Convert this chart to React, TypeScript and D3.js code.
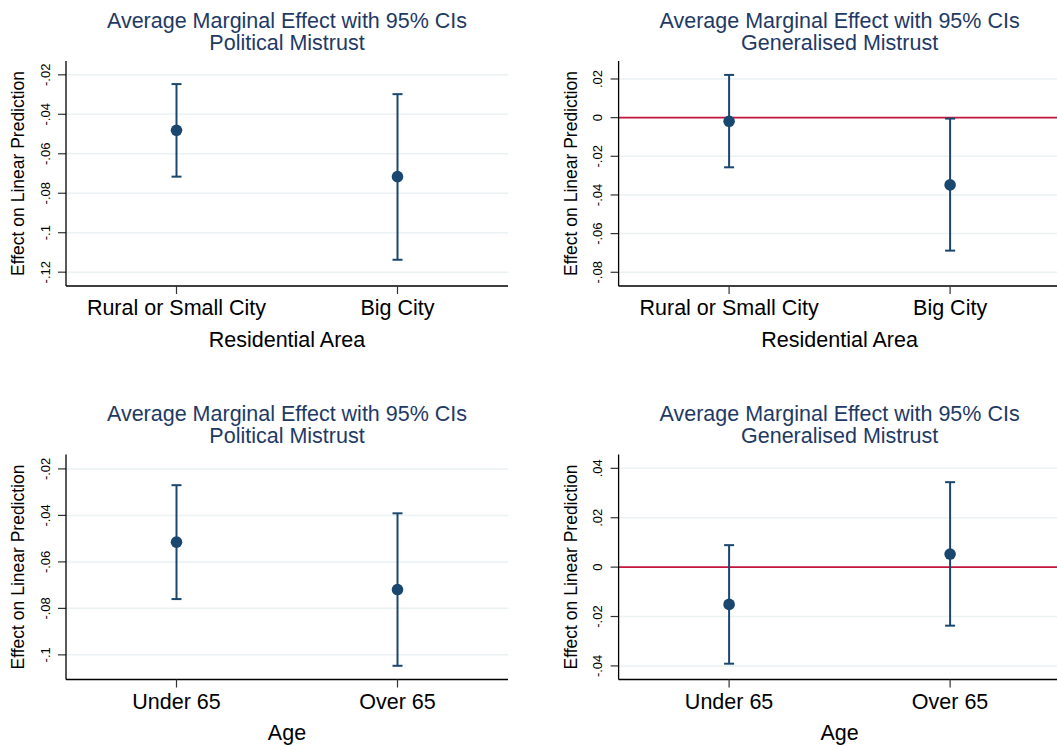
import React from 'react';
import * as d3 from 'd3';

// categories
const areaCats = ["Rural or Small City", "Big City"];
const ageCats = ["Under 65", "Over 65"];

// political mistrust by residential area
const polAreaEst = [-0.0481, -0.0716];
const polAreaLo = [-0.0716, -0.1137];
const polAreaHi = [-0.0247, -0.0298];

// generalised mistrust by residential area
const genAreaEst = [-0.0019, -0.0348];
const genAreaLo = [-0.0257, -0.0688];
const genAreaHi = [0.0221, -0.0005];

// political mistrust by age
const polAgeEst = [-0.0515, -0.0719];
const polAgeLo = [-0.076, -0.1047];
const polAgeHi = [-0.027, -0.0391];

// generalised mistrust by age
const genAgeEst = [-0.0151, 0.0053];
const genAgeLo = [-0.0391, -0.0237];
const genAgeHi = [0.0089, 0.0344];

// y tick values and axis ranges
const polAreaTicks = [-0.12, -0.1, -0.08, -0.06, -0.04, -0.02];
const genAreaTicks = [-0.08, -0.06, -0.04, -0.02, 0, 0.02];
const polAgeTicks = [-0.1, -0.08, -0.06, -0.04, -0.02];
const genAgeTicks = [-0.04, -0.02, 0, 0.02, 0.04];
const polAreaRange = [-0.127, -0.013];
const genAreaRange = [-0.0871, 0.0293];
const polAgeRange = [-0.1106, -0.0138];
const genAgeRange = [-0.0455, 0.0456];

const FONT = "Arial, 'Liberation Sans', Helvetica, sans-serif";
const NAVY = "#1a476f";
const TITLE_C = "#1e3a64";

// Stata-style tick labels: -.02, 0, .02
const fmt = (v: number) => {
    const s = String(+v.toFixed(4));
    return s.replace(/^(-?)0\./, "$1.");
};

interface PanelProps {
    x0: number;
    y0: number;
    subtitle: string;
    xTitle: string;
    cats: string[];
    est: number[];
    lo: number[];
    hi: number[];
    ticks: number[];
    range: number[];
    zeroLine?: boolean;
}

const Panel: React.FC<PanelProps> = ({ x0, y0, subtitle, xTitle, cats, est, lo, hi, ticks, range, zeroLine }) => {
    const left = 66, top = 61, w = 442, h = 225;
    const x = d3.scaleLinear().domain([0.5, cats.length + 0.5]).range([left, left + w]);
    const y = d3.scaleLinear().domain(range).range([top + h, top]);
    const cx = left + w / 2;

    return (
        <g transform={`translate(${x0},${y0})`}>
            <text x={cx} y={27.7} textAnchor="middle" fontSize={21.5} fill={TITLE_C} fontFamily={FONT}>
                Average Marginal Effect with 95% CIs
            </text>
            <text x={cx} y={49.5} textAnchor="middle" fontSize={21.5} fill={TITLE_C} fontFamily={FONT}>
                {subtitle}
            </text>

            {/* grid */}
            {ticks.map(t => (
                <line key={`g${t}`} x1={left} x2={left + w} y1={y(t)} y2={y(t)} stroke="#eaf2f3" strokeWidth={1.5} />
            ))}
            {zeroLine && (
                <line x1={left} x2={left + w} y1={y(0)} y2={y(0)} stroke="#c4163f" strokeWidth={1.8} />
            )}

            {/* y axis */}
            {ticks.map(t => (
                <g key={`t${t}`}>
                    <line x1={left - 8} x2={left} y1={y(t)} y2={y(t)} stroke="#333" strokeWidth={1.2} />
                    <text transform={`translate(${left - 21},${y(t)}) rotate(-90)`} dy="0.35em" textAnchor="middle"
                        fontSize={13} fontFamily={FONT} fill="#000">{fmt(t)}</text>
                </g>
            ))}
            <line x1={left} x2={left} y1={top} y2={top + h} stroke="#000" strokeWidth={1.3} />
            <text transform={`translate(${left - 42},${top + h / 2}) rotate(-90)`} textAnchor="middle"
                fontSize={17.5} fontFamily={FONT} fill="#000">Effect on Linear Prediction</text>

            {/* x axis */}
            <line x1={left} x2={left + w} y1={top + h} y2={top + h} stroke="#000" strokeWidth={1.3} />
            {cats.map((c, i) => (
                <g key={c}>
                    <line x1={x(i + 1)} x2={x(i + 1)} y1={top + h} y2={top + h + 8} stroke="#333" strokeWidth={1.2} />
                    <text x={x(i + 1)} y={315} textAnchor="middle" fontSize={21.5} fontFamily={FONT} fill="#000">{c}</text>
                </g>
            ))}
            <text x={cx} y={346.7} textAnchor="middle" fontSize={21.5} fontFamily={FONT} fill="#000">{xTitle}</text>

            {/* error bars and points */}
            {cats.map((c, i) => {
                const px = x(i + 1);
                return (
                    <g key={`e${c}`} stroke={NAVY} strokeWidth={2}>
                        <line x1={px} x2={px} y1={y(lo[i])} y2={y(hi[i])} />
                        <line x1={px - 5} x2={px + 5} y1={y(lo[i])} y2={y(lo[i])} />
                        <line x1={px - 5} x2={px + 5} y1={y(hi[i])} y2={y(hi[i])} />
                        <circle cx={px} cy={y(est[i])} r={5.8} fill={NAVY} stroke="none" />
                    </g>
                );
            })}
        </g>
    );
};

export default function App() {
    return (
        <svg width={1057} height={746} viewBox="0 0 1057 746"
            style={{ position: 'fixed', left: 0, top: 0, background: '#fff', display: 'block' }}>
            <rect width={1057} height={746} fill="#fff" />
            <Panel x0={0} y0={0} subtitle="Political Mistrust" xTitle="Residential Area" cats={areaCats}
                est={polAreaEst} lo={polAreaLo} hi={polAreaHi} ticks={polAreaTicks} range={polAreaRange} />
            <Panel x0={552.6} y0={0} subtitle="Generalised Mistrust" xTitle="Residential Area" cats={areaCats}
                est={genAreaEst} lo={genAreaLo} hi={genAreaHi} ticks={genAreaTicks} range={genAreaRange} zeroLine />
            <Panel x0={0} y0={393.5} subtitle="Political Mistrust" xTitle="Age" cats={ageCats}
                est={polAgeEst} lo={polAgeLo} hi={polAgeHi} ticks={polAgeTicks} range={polAgeRange} />
            <Panel x0={552.6} y0={393.5} subtitle="Generalised Mistrust" xTitle="Age" cats={ageCats}
                est={genAgeEst} lo={genAgeLo} hi={genAgeHi} ticks={genAgeTicks} range={genAgeRange} zeroLine />
        </svg>
    );
}
